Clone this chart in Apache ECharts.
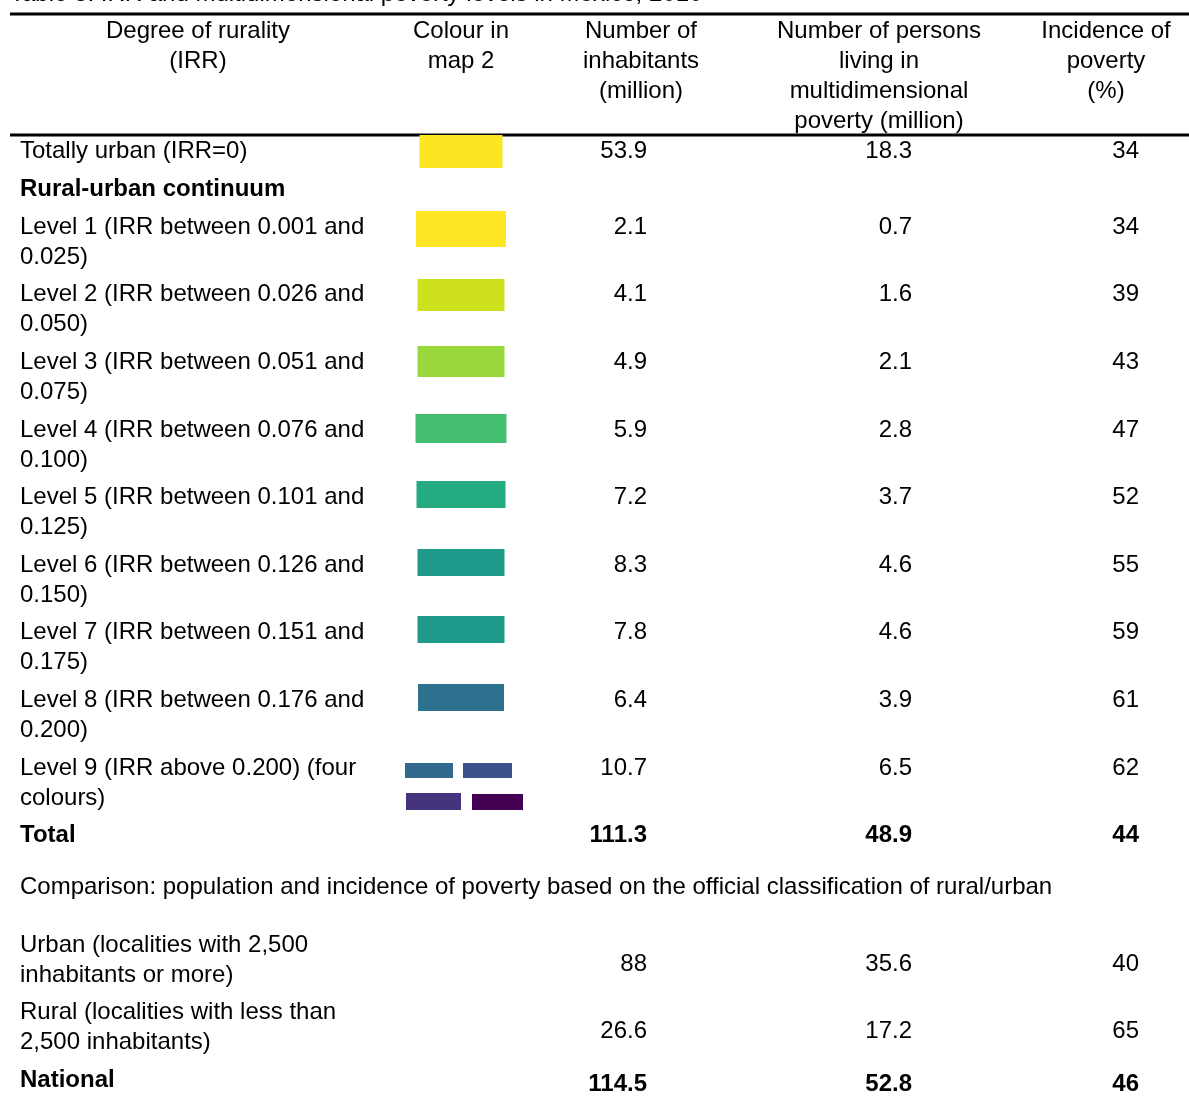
<!DOCTYPE html>
<html><head><meta charset="utf-8">
<script src="https://cdn.jsdelivr.net/npm/echarts@6/dist/echarts.min.js"></script>
<style>html,body{margin:0;padding:0;background:#fff}#c{width:1189px;height:1097px}</style>
</head><body><div id="c"></div>
<script>
// ---------- data ----------
const tableTitle = 'Table 3. IRR and multidimensional poverty levels in Mexico, 2010';
const headers = ['Degree of rurality\n(IRR)', 'Colour in\nmap 2', 'Number of\ninhabitants\n(million)', 'Number of persons\nliving in\nmultidimensional\npoverty (million)', 'Incidence of\npoverty\n(%)'];
const categories = [
  'Totally urban (IRR=0)',
  'Rural-urban continuum',
  'Level 1 (IRR between 0.001 and\n0.025)',
  'Level 2 (IRR between 0.026 and\n0.050)',
  'Level 3 (IRR between 0.051 and\n0.075)',
  'Level 4 (IRR between 0.076 and\n0.100)',
  'Level 5 (IRR between 0.101 and\n0.125)',
  'Level 6 (IRR between 0.126 and\n0.150)',
  'Level 7 (IRR between 0.151 and\n0.175)',
  'Level 8 (IRR between 0.176 and\n0.200)',
  'Level 9 (IRR above 0.200) (four\ncolours)',
  'Total'
];
const inhabitants = [53.9, null, 2.1, 4.1, 4.9, 5.9, 7.2, 8.3, 7.8, 6.4, 10.7, 111.3];
const personsInPoverty = [18.3, null, 0.7, 1.6, 2.1, 2.8, 3.7, 4.6, 4.6, 3.9, 6.5, 48.9];
const incidence = [34, null, 34, 39, 43, 47, 52, 55, 59, 61, 62, 44];
const mapColours = [['#fce523'], [], ['#fde725'], ['#cde11d'], ['#9ad93c'], ['#44bf70'], ['#25ab82'], ['#1f998a'], ['#1f998a'], ['#2c728e'], ['#31688e', '#3b528b', '#46337e', '#440154'], []];
const boldCategories = ['Rural-urban continuum', 'Total'];

const comparisonNote = 'Comparison: population and incidence of poverty based on the official classification of rural/urban';
const compCategories = ['Urban (localities with 2,500\ninhabitants or more)', 'Rural (localities with less than\n2,500 inhabitants)', 'National'];
const compInhabitants = [88, 26.6, 114.5];
const compPersonsInPoverty = [35.6, 17.2, 52.8];
const compIncidence = [40, 65, 46];
const compBold = ['National'];

// ---------- layout (pixels on the page scale) ----------
const W = 1189, H = 1097;
const FONT = '"Liberation Sans", Arial, sans-serif';
const FS = 24, LH = 30;
const TY = 1.5; // text vertical nudge
const colLabelX = 20;
const headerCenters = [198, 461, 641, 879, 1106];
const valueRight = [647, 912, 1139];
const swatchCX = 461;
const rowY = [150, 188, 226, 293, 361, 429, 496, 564, 631, 699, 767, 834];
const swatchW = [83, 0, 90, 87, 87, 91, 89, 87, 87, 86];
const swatchH = [33, 0, 36, 32, 31, 29, 27, 27, 27, 27];
const swatchDY = [1.5, 0, 3, 2, 0.5, -0.5, -1.5, -1.5, -1.5, -1.5];
const multiSwatch = [[-56, -4, 48, 15], [2, -4, 49, 15], [-55, 26, 55, 17], [11, 27, 51, 16]];
const compLabelY = [944, 1011, 1079];
const compValueY = [963, 1030, 1083];
const noteY = 886;

function txt(api, x, y, text, opts) {
  const p = api.coord([x, y + TY]);
  return {
    type: 'text', x: p[0], y: p[1],
    style: Object.assign({
      text: text, fill: '#000', font: (opts && opts.bold ? 'bold ' : '') + FS + 'px ' + FONT,
      lineHeight: LH, align: 'left', verticalAlign: 'middle'
    }, opts && opts.style)
  };
}
function rect(api, x, y, w, h, color) {
  const p = api.coord([x, y]);
  const q = api.coord([x + w, y + h]);
  return { type: 'rect', shape: { x: p[0], y: p[1], width: q[0] - p[0], height: q[1] - p[1] }, style: { fill: color } };
}
function fmt(v) { return v == null ? '' : String(v); }

const chart = echarts.init(document.getElementById('c'));
chart.setOption({
  backgroundColor: '#fff',
  animation: false,
  grid: { left: 0, right: 0, top: 0, bottom: 0 },
  xAxis: { type: 'value', min: 0, max: W, show: false },
  yAxis: { type: 'value', min: 0, max: H, inverse: true, show: false },
  series: [
    { // title, header, rules
      type: 'custom', clip: false, data: [0],
      renderItem: function (params, api) {
        const children = [];
        children.push(txt(api, 10, -7.5, tableTitle));
        headers.forEach(function (h, j) {
          children.push(txt(api, headerCenters[j], 15, h, { style: { align: 'center', verticalAlign: 'top' } }));
        });
        [14, 135].forEach(function (y) {
          const a = api.coord([10, y]), b = api.coord([W, y]);
          children.push({ type: 'line', shape: { x1: a[0], y1: a[1], x2: b[0], y2: b[1] }, style: { stroke: '#000', lineWidth: 3 } });
        });
        children.push(txt(api, colLabelX, noteY, comparisonNote));
        return { type: 'group', children: children };
      }
    },
    { // main rows
      type: 'custom', clip: false, data: categories.map(function (_, i) { return i; }),
      renderItem: function (params, api) {
        const i = api.value(0);
        const y = rowY[i];
        const bold = boldCategories.indexOf(categories[i]) >= 0;
        const children = [];
        children.push(txt(api, colLabelX, y - LH / 2, categories[i], { bold: bold, style: { verticalAlign: 'top' } }));
        const cols = mapColours[i];
        if (cols.length === 1) {
          children.push(rect(api, swatchCX - swatchW[i] / 2, y + swatchDY[i] - swatchH[i] / 2, swatchW[i], swatchH[i], cols[0]));
        } else if (cols.length > 1) {
          cols.forEach(function (c, k) {
            const m = multiSwatch[k];
            children.push(rect(api, swatchCX + m[0], y + m[1], m[2], m[3], c));
          });
        }
        [inhabitants[i], personsInPoverty[i], incidence[i]].forEach(function (v, j) {
          children.push(txt(api, valueRight[j], y, fmt(v), { bold: bold, style: { align: 'right' } }));
        });
        return { type: 'group', children: children };
      }
    },
    { // comparison rows
      type: 'custom', clip: false, data: compCategories.map(function (_, i) { return i; }),
      renderItem: function (params, api) {
        const i = api.value(0);
        const bold = compBold.indexOf(compCategories[i]) >= 0;
        const children = [];
        children.push(txt(api, colLabelX, compLabelY[i] - LH / 2, compCategories[i], { bold: bold, style: { verticalAlign: 'top' } }));
        [compInhabitants[i], compPersonsInPoverty[i], compIncidence[i]].forEach(function (v, j) {
          children.push(txt(api, valueRight[j], compValueY[i], fmt(v), { bold: bold, style: { align: 'right' } }));
        });
        return { type: 'group', children: children };
      }
    }
  ]
});
</script>
</body></html>
